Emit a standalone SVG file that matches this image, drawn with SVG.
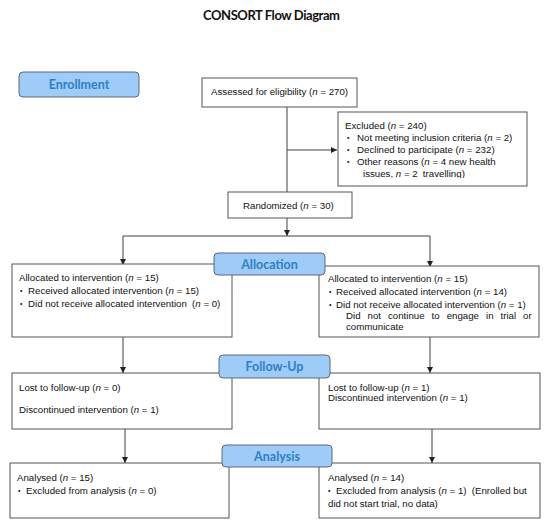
<svg xmlns="http://www.w3.org/2000/svg" width="550" height="527" viewBox="0 0 550 527">
<style>
.t{font-family:"Liberation Sans",Arial,sans-serif;font-size:9.7px;fill:#111}
.i{font-style:italic}
.b{font-family:"Liberation Sans",Arial,sans-serif;font-size:7px;fill:#111}
.box{fill:#fff;stroke:#555;stroke-width:1}
.lab{fill:#9ecbf7;stroke:#5d6b78;stroke-width:1}
.lt{font-family:Lato,"Open Sans",sans-serif;font-weight:bold;font-size:12.5px;fill:#2f7fc6;text-anchor:middle}
.ln{stroke:#404040;stroke-width:1;fill:none}
</style>
<defs>
<marker id="ar" viewBox="0 0 6 6" refX="6" refY="3" markerWidth="6" markerHeight="6" markerUnits="userSpaceOnUse" orient="auto">
<path d="M0,0 L6,3 L0,6 Z" fill="#222"/>
</marker>
<clipPath id="exclip"><rect x="338" y="112" width="189" height="66"/></clipPath>
</defs>
<rect width="550" height="527" fill="#fff"/>
<text x="271.5" y="20" font-family="Lato,'Open Sans',sans-serif" font-weight="bold" font-size="13" text-anchor="middle" textLength="137" fill="#111">CONSORT Flow Diagram</text>

<g id="connectors">
<line class="ln" x1="287" y1="107" x2="287" y2="192"/>
<line class="ln" x1="287" y1="150" x2="337" y2="150" marker-end="url(#ar)"/>
<line class="ln" x1="287" y1="218" x2="287" y2="236" marker-end="url(#ar)"/>
<line class="ln" x1="123" y1="236" x2="430" y2="236"/>
<line class="ln" x1="123" y1="236" x2="123" y2="265" marker-end="url(#ar)"/>
<line class="ln" x1="430" y1="236" x2="430" y2="267" marker-end="url(#ar)"/>
<line class="ln" x1="123" y1="337" x2="123" y2="373" marker-end="url(#ar)"/>
<line class="ln" x1="430" y1="337" x2="430" y2="373" marker-end="url(#ar)"/>
<line class="ln" x1="125" y1="429" x2="125" y2="463" marker-end="url(#ar)"/>
<line class="ln" x1="432" y1="429" x2="432" y2="463" marker-end="url(#ar)"/>
</g>

<g id="enrollment">
<rect class="lab" x="19" y="72" width="120" height="25" rx="4"/>
<text class="lt" x="79" y="89">Enrollment</text>
</g>

<g id="assessed">
<rect class="box" x="202" y="78" width="155" height="29"/>
<text class="t" x="211" y="95">Assessed for eligibility (<tspan class="i">n</tspan> = 270)</text>
</g>

<g id="excluded">
<rect class="box" x="338" y="112" width="189" height="74"/>
<text class="t" x="345" y="128.5">Excluded (<tspan class="i">n</tspan> = 240)</text>
<text class="b" x="347" y="140">•</text>
<text class="t" x="357" y="140.5">Not meeting inclusion criteria (<tspan class="i">n</tspan> = 2)</text>
<text class="b" x="347" y="152">•</text>
<text class="t" x="357" y="152.5">Declined to participate (<tspan class="i">n</tspan> = 232)</text>
<text class="b" x="347" y="164">•</text>
<text class="t" x="357" y="164.5">Other reasons (<tspan class="i">n</tspan> = 4 new health</text>
<text class="t" x="363" y="176.5" clip-path="url(#exclip)">issues, <tspan class="i">n</tspan> = 2 <tspan dx="2.5">travelling)</tspan></text>
</g>

<g id="randomized">
<rect class="box" x="228" y="192" width="124" height="26"/>
<text class="t" x="243" y="209">Randomized (<tspan class="i">n</tspan> = 30)</text>
</g>

<g id="alloc-left">
<rect class="box" x="12" y="264" width="220" height="73"/>
<text class="t" x="19" y="281">Allocated to intervention (<tspan class="i">n</tspan> = 15)</text>
<text class="b" x="20" y="293">•</text>
<text class="t" x="28" y="293.5">Received allocated intervention (<tspan class="i">n</tspan> = 15)</text>
<text class="b" x="20" y="306">•</text>
<text class="t" x="28" y="306.5">Did not receive allocated intervention <tspan dx="2.5">(</tspan><tspan class="i">n</tspan> = 0)</text>
</g>

<g id="alloc-right">
<rect class="box" x="319" y="266" width="220" height="71"/>
<text class="t" x="328" y="282">Allocated to intervention (<tspan class="i">n</tspan> = 15)</text>
<text class="b" x="329" y="294">•</text>
<text class="t" x="336" y="294.5">Received allocated intervention (<tspan class="i">n</tspan> = 14)</text>
<text class="b" x="329" y="307">•</text>
<text class="t" x="336" y="307.5">Did not receive allocated intervention (<tspan class="i">n</tspan> = 1)</text>
<text class="t" x="346" y="318.5" word-spacing="4.3">Did not continue to engage in trial or</text>
<text class="t" x="346" y="329.5">communicate</text>
</g>

<g id="allocation">
<rect class="lab" x="214" y="253" width="111" height="22" rx="4"/>
<text class="lt" x="269.5" y="269">Allocation</text>
</g>

<g id="follow-left">
<rect class="box" x="12" y="373" width="220" height="56"/>
<text class="t" x="19" y="390.5">Lost to follow-up (<tspan class="i">n</tspan> = 0)</text>
<text class="t" x="19" y="412.5">Discontinued intervention (<tspan class="i">n</tspan> = 1)</text>
</g>

<g id="follow-right">
<rect class="box" x="319" y="373" width="221" height="56"/>
<text class="t" x="328" y="390.5">Lost to follow-up (<tspan class="i">n</tspan> = 1)</text>
<text class="t" x="328" y="401">Discontinued intervention (<tspan class="i">n</tspan> = 1)</text>
</g>

<g id="followup">
<rect class="lab" x="219" y="355" width="111" height="23" rx="4"/>
<text class="lt" x="274.5" y="371">Follow-Up</text>
</g>

<g id="analysis-left">
<rect class="box" x="10" y="463" width="219" height="55"/>
<text class="t" x="17" y="480.5">Analysed (<tspan class="i">n</tspan> = 15)</text>
<text class="b" x="18" y="493">•</text>
<text class="t" x="26" y="493.5">Excluded from analysis (<tspan class="i">n</tspan> = 0)</text>
</g>

<g id="analysis-right">
<rect class="box" x="319" y="463" width="221" height="55"/>
<text class="t" x="328" y="480.5">Analysed (<tspan class="i">n</tspan> = 14)</text>
<text class="b" x="328" y="493">•</text>
<text class="t" x="336" y="493.5">Excluded from analysis (<tspan class="i">n</tspan> = 1) <tspan dx="2.5">(Enrolled but</tspan></text>
<text class="t" x="328" y="506.5">did not start trial, no data)</text>
</g>

<g id="analysis">
<rect class="lab" x="222" y="445" width="110" height="22" rx="4"/>
<text class="lt" x="277" y="460.5">Analysis</text>
</g>
</svg>
